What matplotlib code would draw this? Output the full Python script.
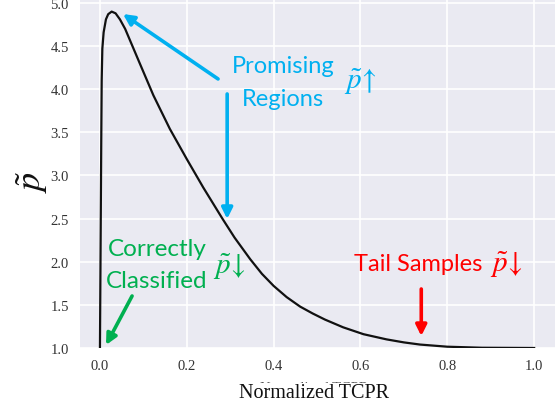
import matplotlib
matplotlib.use("Agg")
import matplotlib.pyplot as plt

# Curve
tcpr = [0.0, 0.001, 0.002, 0.003, 0.004, 0.0055, 0.0085, 0.0138, 0.019, 0.027,
        0.036, 0.046, 0.058, 0.09, 0.123, 0.161, 0.200, 0.238, 0.282, 0.31,
        0.346, 0.373, 0.400, 0.43, 0.461, 0.49, 0.518, 0.56, 0.607, 0.66,
        0.70, 0.737, 0.80, 0.88, 1.0]
p_tilde = [1.0, 1.8, 2.6, 3.4, 4.1, 4.47, 4.66, 4.81, 4.87, 4.90,
           4.88, 4.81, 4.70, 4.32, 3.93, 3.54, 3.19, 2.86, 2.50, 2.28,
           2.03, 1.86, 1.72, 1.59, 1.48, 1.40, 1.33, 1.24, 1.16, 1.10,
           1.065, 1.04, 1.015, 1.003, 1.0]

x_ticks = [0.0, 0.2, 0.4, 0.6, 0.8, 1.0]
y_ticks = [1.0, 1.5, 2.0, 2.5, 3.0, 3.5, 4.0, 4.5, 5.0]

plt.rcParams['mathtext.fontset'] = 'stix'

fig = plt.figure(figsize=(5.55, 4.14), dpi=100)
ax = fig.add_axes([0.1441, 0.157, 0.8559, 0.843])
ax.set_facecolor('#EAEAF2')
for s in ax.spines.values():
    s.set_visible(False)
ax.grid(True, color='white', linewidth=1.2)
ax.set_axisbelow(True)

ax.plot(tcpr, p_tilde, color='#111111', linewidth=1.6, solid_joinstyle='round')

ax.set_xlim(-0.046, 1.048)
ax.set_ylim(1.0, 5.046)
ax.set_xticks(x_ticks)
ax.set_yticks(y_ticks)
ax.set_xticklabels([f"{v:.1f}" for v in x_ticks])
ax.set_yticklabels([f"{v:.1f}" for v in y_ticks])
ax.tick_params(length=0, labelsize=10.5, labelcolor='#333333', pad=8)
for lab in ax.get_xticklabels() + ax.get_yticklabels():
    lab.set_family('Liberation Serif')

# faint underlying small x label, mostly covered by the large one
fig.text(314 / 555, 1 - 389 / 414, 'Normalized TCPR', ha='center', va='center',
         fontsize=10.5, family='Liberation Serif', color='#555555')
# x label
fig.text(314 / 555, 1 - 394 / 414, 'Normalized TCPR', ha='center', va='center',
         fontsize=14.5, family='Liberation Serif', color='#111111',
         bbox=dict(facecolor='white', edgecolor='none', pad=0.5))
# y label
fig.text(32 / 555, 1 - 182 / 414, r'$\tilde{p}$', ha='center', va='center',
         fontsize=26, rotation=90, color='#111111')

sans = ['Lato', 'DejaVu Sans']
blue = '#00B0F0'
green = '#00B050'
red = '#FF0000'

def arrow(x0, y0, x1, y1, c):
    ax.annotate('', xy=(x1, y1), xytext=(x0, y0),
                arrowprops=dict(arrowstyle='-|>', color=c, lw=2.6,
                                mutation_scale=16, shrinkA=0, shrinkB=0))

# Promising regions
ax.text(0.422, 4.270, 'Promising', ha='center', va='center', color=blue,
        fontsize=17, family=sans)
ax.text(0.422, 3.887, 'Regions', ha='center', va='center', color=blue,
        fontsize=17, family=sans)
ax.text(0.599, 4.096, r'$\tilde{p}\!\uparrow$', ha='center', va='center',
        color=blue, fontsize=21)
arrow(0.272, 4.119, 0.053, 4.872, blue)
arrow(0.293, 3.945, 0.293, 2.496, blue)

# Correctly classified
ax.text(0.131, 2.148, 'Correctly', ha='center', va='center', color=green,
        fontsize=17.5, family=sans)
ax.text(0.131, 1.777, 'Classified', ha='center', va='center', color=green,
        fontsize=17.5, family=sans)
ax.text(0.297, 1.951, r'$\tilde{p}\!\downarrow$', ha='center', va='center',
        color=green, fontsize=21)
arrow(0.074, 1.603, 0.014, 1.035, green)

# Tail samples
ax.text(0.880, 1.974, 'Tail Samples', ha='right', va='center',
        color=red, fontsize=17, family=sans)
ax.text(0.937, 1.974, r'$\tilde{p}\!\downarrow$', ha='center', va='center',
        color=red, fontsize=21)
arrow(0.740, 1.684, 0.740, 1.139, red)

fig.savefig('out.png', dpi=100)
